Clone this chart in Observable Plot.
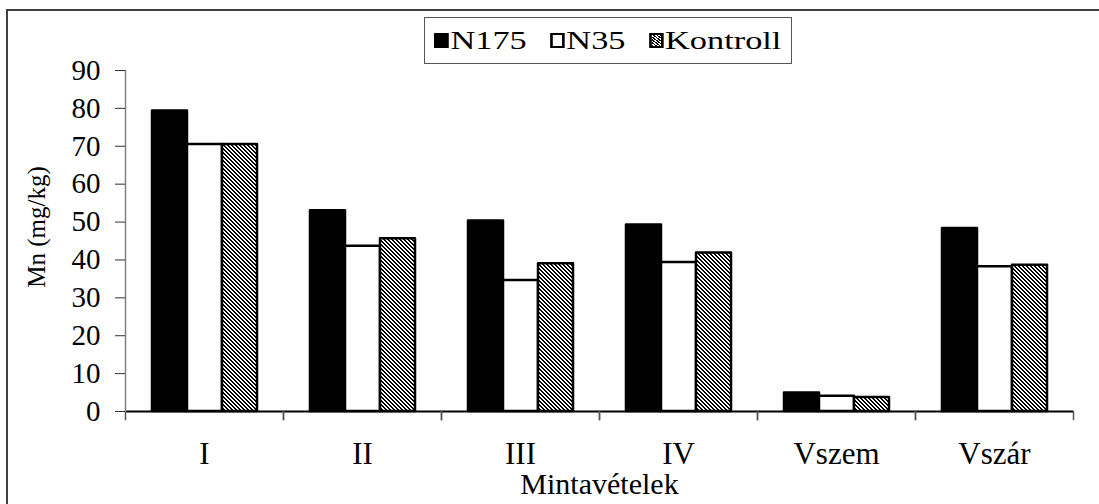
<!DOCTYPE html>
<html><head><meta charset="utf-8">
<script src="https://cdn.jsdelivr.net/npm/d3@7"></script>
<script src="https://cdn.jsdelivr.net/npm/@observablehq/plot@0.6"></script>
<style>
html,body{margin:0;padding:0;background:#fff;overflow:hidden;width:1099px;height:504px;}
#wrap{position:relative;width:1099px;height:504px;}
#chart{position:absolute;left:0;top:0;}
#border{position:absolute;left:6px;top:9px;width:1200px;height:700px;border:2px solid #404040;pointer-events:none;}
#legend{position:absolute;left:424px;top:17px;width:366px;height:45px;border:1px solid #555;background:#fff;
  font-family:"Liberation Serif","Times New Roman",serif;color:#000;}
#legend .inner{position:absolute;left:9px;top:0;height:45px;display:flex;align-items:center;transform:scaleX(1.32);transform-origin:left center;white-space:nowrap;}
#legend .sw{width:11px;height:15px;box-sizing:border-box;border:2.5px solid #000;margin-right:1.5px;}
#legend .lab{font-size:26px;line-height:1;margin-right:17.5px;}
</style>
</head><body>
<div id="wrap"><div id="chart"></div><div id="legend"></div><div id="border"></div></div>
<script>
const categories = ["I", "II", "III", "IV", "Vszem", "Vszár"];
const series = ["N175", "N35", "Kontroll"];
const N175 = [79.3, 53.0, 50.3, 49.2, 4.9, 48.3];
const N35 = [70.5, 43.6, 34.6, 39.3, 4.0, 38.2];
const Kontroll = [70.5, 45.6, 39.0, 41.8, 3.7, 38.6];
const yTicks = [0, 10, 20, 30, 40, 50, 60, 70, 80, 90];
const fills = ["#000000", "#ffffff", "url(#hatch)"];
const xTitle = "Mintavételek";
const yTitle = "Mn (mg/kg)";

const serif = "'Liberation Serif','Times New Roman',serif";
const valuesBySeries = [N175, N35, Kontroll];
const data = categories.flatMap((c, i) => series.map((s, j) => ({category: c, series: s, value: valuesBySeries[j][i]})));

const svg = Plot.plot({
  width: 1099, height: 504,
  marginLeft: 122, marginRight: 24, marginTop: 70, marginBottom: 93,
  style: {fontFamily: serif, color: "black", background: "transparent", overflow: "visible"},
  fx: {domain: categories, padding: 0},
  x: {domain: series, paddingInner: 0, paddingOuter: 0.735, axis: null},
  y: {domain: [0, 90]},
  color: {domain: series, range: fills},
  marks: [
    Plot.barY(data, {fx: "category", x: "series", y: "value", fill: "series", stroke: "black", strokeWidth: 2.5, strokeLinejoin: "round"}),
    Plot.ruleY([0], {stroke: "black", strokeWidth: 2}),
    Plot.frame({anchor: "left", insetTop: 341, insetBottom: -8, stroke: "#555", strokeWidth: 1.5}),
    Plot.frame({anchor: "right", insetTop: 341, insetBottom: -8, stroke: "#555", strokeWidth: 1.5}),
    Plot.frame({anchor: "left", facet: "super", stroke: "#808080", strokeWidth: 1.5}),
    Plot.axisY({ticks: yTicks, tickSize: 10, tickPadding: 15, fontSize: 29, fontFamily: serif, label: null, tickFormat: d => String(d), stroke: "#333"}),
    Plot.axisFx({anchor: "bottom", tickSize: 0, tickPadding: 30, fontSize: 31, fontFamily: serif, label: null}),
    Plot.text([xTitle], {text: d => d, frameAnchor: "bottom", facet: "super", textAnchor: "middle", lineAnchor: "top", dy: 61, fontSize: 30, fontFamily: serif}),
    Plot.text([yTitle], {text: d => d, frameAnchor: "left", facet: "super", textAnchor: "middle", lineAnchor: "middle", rotate: -90, dx: -89, dy: -14, fontSize: 25, fontFamily: serif})
  ]
});

const defs = d3.select(svg).insert("defs", ":first-child");
const pat = defs.append("pattern").attr("id", "hatch").attr("patternUnits", "userSpaceOnUse").attr("width", 4).attr("height", 4);
pat.append("rect").attr("width", 4).attr("height", 4).attr("fill", "white");
for (let i = 0; i < 4; i++) for (let k = 0; k < 2; k++) {
  pat.append("rect").attr("x", i).attr("y", (i + k) % 4).attr("width", 1).attr("height", 1).attr("fill", "black").attr("shape-rendering", "crispEdges");
}

document.getElementById("chart").appendChild(svg);

const legend = d3.select("#legend").append("div").attr("class", "inner");
series.forEach((s, i) => {
  const sw = legend.append("div").attr("class", "sw");
  if (i === 2) sw.style("background", "repeating-linear-gradient(45deg,#000 0px,#000 1px,#fff 1px,#fff 2px)").style("border-width", "2px");
  else sw.style("background", fills[i]);
  legend.append("span").attr("class", "lab").text(s);
});
</script>
</body></html>
